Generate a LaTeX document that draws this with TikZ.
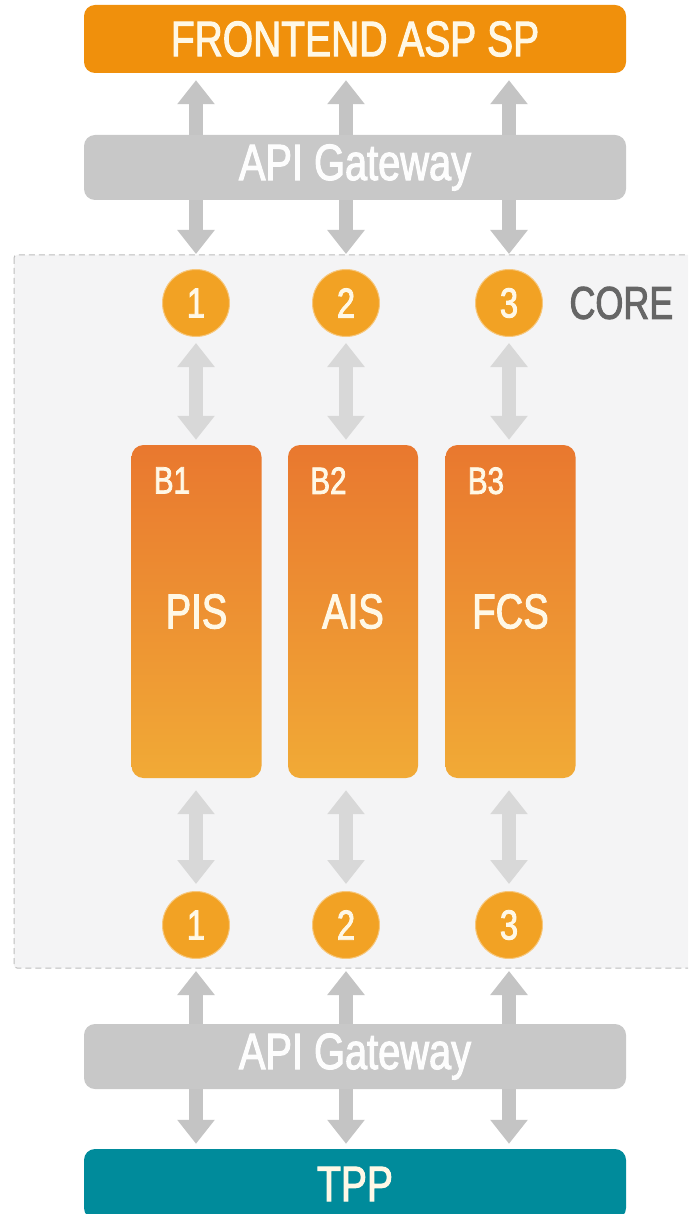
\documentclass[tikz,border=0pt]{standalone}
\usepackage{fontspec}
\setmainfont{Liberation Sans}[FakeStretch=0.78, FakeBold=2]
\usetikzlibrary{arrows.meta}
\definecolor{feorange}{HTML}{F0900C}
\definecolor{gwgray}{HTML}{C8C8C8}
\definecolor{argray}{HTML}{C4C4C4}
\definecolor{argraylt}{HTML}{D8D8D8}
\definecolor{coregray}{HTML}{F4F4F5}
\definecolor{coreborder}{HTML}{BDBDBD}
\definecolor{circorange}{HTML}{F2A224}
\definecolor{boxtop}{HTML}{E9782F}
\definecolor{boxbot}{HTML}{F1AA36}
\definecolor{tppteal}{HTML}{008B9B}
\definecolor{cream}{HTML}{FFF8E6}
\definecolor{coretext}{HTML}{666666}
\tikzset{
  bar/.style={rounded corners=11pt, minimum width=542pt, inner sep=0pt, text=cream},
  gw/.style={bar, fill=gwgray, minimum height=65pt, font=\fontsize{51}{51}\selectfont, text=white!96!gwgray},
  num/.style={circle, fill=circorange, draw=circorange!60!white, line width=1pt, minimum size=67pt, inner sep=0pt, text=cream, font=\fontsize{42}{42}\selectfont},
  blk/.style={rounded corners=12pt, top color=boxtop, bottom color=boxbot, draw=none, minimum width=130pt, minimum height=333pt, inner sep=0pt},
  dbl/.style={line width=14pt, {Triangle[width=36pt,length=24pt]}-{Triangle[width=36pt,length=24pt]}},
  outerarr/.style={dbl, draw=argray},
  innerarr/.style={dbl, draw=argraylt},
}
\begin{document}
\begin{tikzpicture}[x=1pt,y=-1pt]
\useasboundingbox (0,0) rectangle (688,1214);
\clip (0,0) rectangle (688,1214);
\fill[white] (0,0) rectangle (688,1214);
% core region
\draw[fill=coregray, draw=coreborder, line width=1pt, dash pattern=on 6pt off 4pt, rounded corners=3pt] (14,255) rectangle (700,968);
\node[anchor=west, text=coretext, font=\fontsize{46}{46}\selectfont] (core) at (566,303) {CORE};
% top bar and TPP
\node[bar, fill=feorange, minimum height=68pt, font=\fontsize{50}{50}\selectfont] (fe) at (355,39) {FRONTEND ASP SP};
\node[bar, fill=tppteal, minimum height=70pt, font=\fontsize{50}{50}\selectfont] (tpp) at (355,1184) {TPP};
% circles
\node[num] (t1) at (196,303) {1};
\node[num] (t2) at (346,303) {2};
\node[num] (t3) at (509,303) {3};
\node[num] (b1) at (196,925) {1};
\node[num] (b2) at (346,925) {2};
\node[num] (b3) at (509,925) {3};
% blocks
\node[blk] (k1) at (196.5,611.5) {};
\node[blk] (k2) at (353,611.5) {};
\node[blk] (k3) at (510.5,611.5) {};
\foreach \k/\lab/\nm in {k1/B1/PIS, k2/B2/AIS, k3/B3/FCS}{
  \node[anchor=north west, text=cream, font=\fontsize{38}{38}\selectfont] at ([xshift=19pt,yshift=-19pt]\k.north west) {\lab};
  \node[text=cream, font=\fontsize{49}{49}\selectfont] at (\k.center) {\nm};
}
% arrows: frontend <-> core
\foreach \t in {t1,t2,t3}{
  \draw[outerarr, shorten <=7pt, shorten >=15pt] (fe.south -| \t) -- (\t.north);
}
% circles <-> blocks
\draw[innerarr, shorten <=6pt, shorten >=5pt] (t1.south) -- (t1.south |- k1.north);
\draw[innerarr, shorten <=6pt, shorten >=5pt] (t2.south) -- (t2.south |- k2.north);
\draw[innerarr, shorten <=6pt, shorten >=5pt] (t3.south) -- (t3.south |- k3.north);
\draw[innerarr, shorten <=12pt, shorten >=7pt] (b1.north |- k1.south) -- (b1.north);
\draw[innerarr, shorten <=12pt, shorten >=7pt] (b2.north |- k2.south) -- (b2.north);
\draw[innerarr, shorten <=12pt, shorten >=7pt] (b3.north |- k3.south) -- (b3.north);
% core <-> TPP
\foreach \b in {b1,b2,b3}{
  \draw[outerarr, shorten <=12pt, shorten >=5pt] (\b.south) -- (tpp.north -| \b);
}
% gateways on top of the arrows
\node[gw] (gw1) at (355,167.5) {API Gateway};
\node[gw] (gw2) at (355,1056.5) {API Gateway};
\end{tikzpicture}
\end{document}
